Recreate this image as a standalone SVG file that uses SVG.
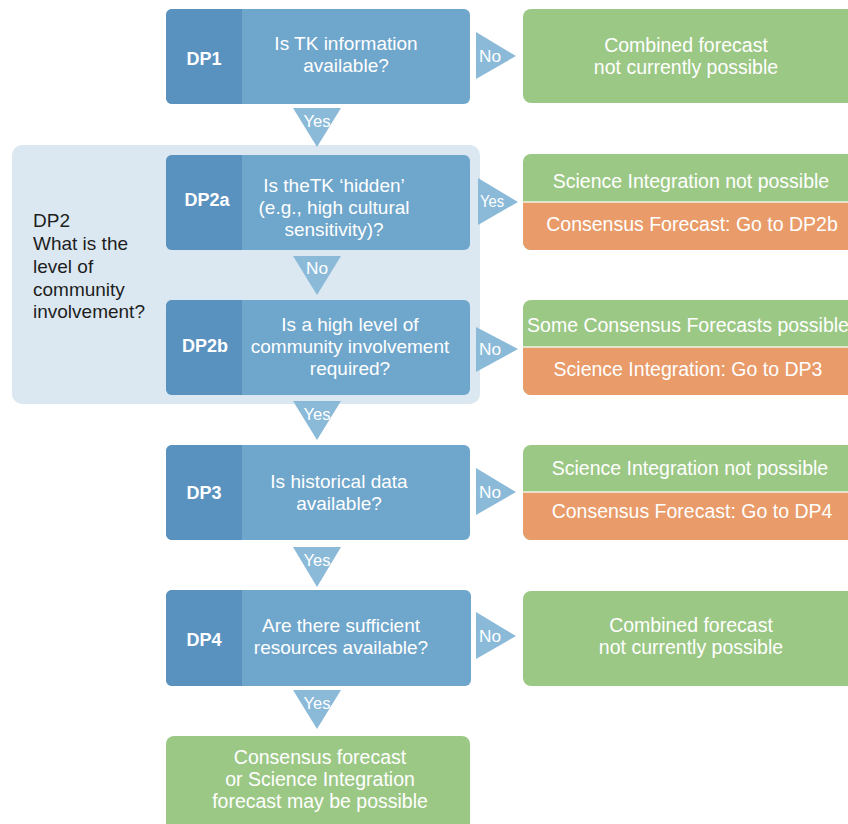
<svg xmlns="http://www.w3.org/2000/svg" width="848" height="824" viewBox="0 0 848 824">
<defs>
<style>
.bg{fill:#ffffff}
.grp{fill:#dce8f1}
.lt{fill:#6fa6cb}
.dk{fill:#5a92bf}
.gr{fill:#9cc886}
.or{fill:#e99b69}
.sep{stroke:#eef3e6;stroke-width:1.5}
.tri{fill:#8bbad9}
.lbl{font-family:"Liberation Sans",Arial,sans-serif;font-size:18px;font-weight:bold;fill:#ffffff;text-anchor:middle}
.q{font-family:"Liberation Sans",Arial,sans-serif;font-size:19px;fill:#ffffff;text-anchor:middle}
.o{font-family:"Liberation Sans",Arial,sans-serif;font-size:19.5px;fill:#ffffff;text-anchor:middle}
.yn{font-family:"Liberation Sans",Arial,sans-serif;font-size:17px;fill:#ffffff;text-anchor:middle}
.dp2{font-family:"Liberation Sans",Arial,sans-serif;font-size:19px;fill:#1e1e1e}
</style>
</defs>
<rect class="bg" x="0" y="0" width="848" height="824"/>

<g id="DP2">
<rect class="grp" x="12" y="145" width="468" height="259" rx="10"/>
<text class="dp2" x="33" y="227">DP2</text>
<text class="dp2" x="33" y="250">What is the</text>
<text class="dp2" x="33" y="273">level of</text>
<text class="dp2" x="33" y="296">community</text>
<text class="dp2" x="33" y="318">involvement?</text>
</g>

<g id="DP1">
<rect class="lt" x="166" y="9" width="304" height="95" rx="6"/>
<path class="dk" d="M172,9 H242 V104 H172 A6 6 0 0 1 166 98 V15 A6 6 0 0 1 172 9 Z"/>
<text class="lbl" x="204" y="65">DP1</text>
<text class="q" x="346" y="50">Is TK information</text>
<text class="q" x="346" y="72">available?</text>
</g>

<g id="DP2a">
<rect class="lt" x="166" y="155" width="304" height="95" rx="6"/>
<path class="dk" d="M172,155 H242 V250 H172 A6 6 0 0 1 166 244 V161 A6 6 0 0 1 172 155 Z"/>
<text class="lbl" x="207" y="206">DP2a</text>
<text class="q" x="334" y="192">Is theTK ‘hidden’</text>
<text class="q" x="334" y="214">(e.g., high cultural</text>
<text class="q" x="334" y="236">sensitivity)?</text>
</g>

<g id="DP2b">
<rect class="lt" x="166" y="300" width="304" height="95" rx="6"/>
<path class="dk" d="M172,300 H242 V395 H172 A6 6 0 0 1 166 389 V306 A6 6 0 0 1 172 300 Z"/>
<text class="lbl" x="205" y="352">DP2b</text>
<text class="q" x="350" y="331">Is a high level of</text>
<text class="q" x="350" y="353">community involvement</text>
<text class="q" x="350" y="375">required?</text>
</g>

<g id="DP3">
<rect class="lt" x="166" y="445" width="304" height="95" rx="6"/>
<path class="dk" d="M172,445 H242 V540 H172 A6 6 0 0 1 166 534 V451 A6 6 0 0 1 172 445 Z"/>
<text class="lbl" x="204" y="499">DP3</text>
<text class="q" x="339" y="488">Is historical data</text>
<text class="q" x="339" y="510">available?</text>
</g>

<g id="DP4">
<rect class="lt" x="166" y="590" width="305" height="96" rx="6"/>
<path class="dk" d="M172,590 H242 V686 H172 A6 6 0 0 1 166 680 V596 A6 6 0 0 1 172 590 Z"/>
<text class="lbl" x="204" y="646">DP4</text>
<text class="q" x="341" y="632">Are there sufficient</text>
<text class="q" x="341" y="654">resources available?</text>
</g>

<g id="OUT1">
<rect class="gr" x="523" y="9" width="340" height="94" rx="8"/>
<text class="o" x="686" y="52">Combined forecast</text>
<text class="o" x="686" y="74">not currently possible</text>
</g>

<g id="OUT2">
<rect class="gr" x="523" y="154" width="340" height="96" rx="8"/>
<path class="or" d="M523,202 H863 V250 H531 A8 8 0 0 1 523 242 Z"/>
<line class="sep" x1="523" y1="202" x2="848" y2="202"/>
<text class="o" x="691" y="188">Science Integration not possible</text>
<text class="o" x="692" y="231">Consensus Forecast: Go to DP2b</text>
</g>

<g id="OUT3">
<rect class="gr" x="523" y="300" width="340" height="95" rx="8"/>
<path class="or" d="M523,347 H863 V395 H531 A8 8 0 0 1 523 387 Z"/>
<line class="sep" x1="523" y1="347" x2="848" y2="347"/>
<text class="o" x="688" y="332">Some Consensus Forecasts possible</text>
<text class="o" x="688" y="376">Science Integration: Go to DP3</text>
</g>

<g id="OUT4">
<rect class="gr" x="523" y="445" width="340" height="95" rx="8"/>
<path class="or" d="M523,492 H863 V540 H531 A8 8 0 0 1 523 532 Z"/>
<line class="sep" x1="523" y1="492" x2="848" y2="492"/>
<text class="o" x="690" y="475">Science Integration not possible</text>
<text class="o" x="692" y="518">Consensus Forecast: Go to DP4</text>
</g>

<g id="OUT5">
<rect class="gr" x="523" y="591" width="340" height="95" rx="8"/>
<text class="o" x="691" y="632">Combined forecast</text>
<text class="o" x="691" y="654">not currently possible</text>
</g>

<g id="FINAL">
<rect class="gr" x="166" y="736" width="304" height="100" rx="8"/>
<text class="o" x="320" y="764">Consensus forecast</text>
<text class="o" x="320" y="786">or Science Integration</text>
<text class="o" x="320" y="808">forecast may be possible</text>
</g>

<g id="connectors">
<polygon class="tri" points="476,32 516,56 476,79"/>
<text class="yn" x="490" y="62" textLength="22" lengthAdjust="spacingAndGlyphs">No</text>
<polygon class="tri" points="293,108 341,108 317,147"/>
<text class="yn" x="317" y="127" textLength="27" lengthAdjust="spacingAndGlyphs">Yes</text>

<polygon class="tri" points="478,178 518,202 478,225"/>
<text class="yn" x="492" y="207" textLength="24" lengthAdjust="spacingAndGlyphs">Yes</text>
<polygon class="tri" points="293,256 341,256 317,295"/>
<text class="yn" x="317" y="274" textLength="22" lengthAdjust="spacingAndGlyphs">No</text>

<polygon class="tri" points="476,327 518,349 476,372"/>
<text class="yn" x="490" y="355" textLength="22" lengthAdjust="spacingAndGlyphs">No</text>
<polygon class="tri" points="293,401 341,401 317,440"/>
<text class="yn" x="317" y="420" textLength="27" lengthAdjust="spacingAndGlyphs">Yes</text>

<polygon class="tri" points="476,468 516,492 476,515"/>
<text class="yn" x="490" y="498" textLength="22" lengthAdjust="spacingAndGlyphs">No</text>
<polygon class="tri" points="293,547 341,547 317,587"/>
<text class="yn" x="317" y="566" textLength="27" lengthAdjust="spacingAndGlyphs">Yes</text>

<polygon class="tri" points="476,612 516,636 476,659"/>
<text class="yn" x="490" y="642" textLength="22" lengthAdjust="spacingAndGlyphs">No</text>
<polygon class="tri" points="293,690 341,690 317,729"/>
<text class="yn" x="317" y="709" textLength="27" lengthAdjust="spacingAndGlyphs">Yes</text>
</g>
</svg>
